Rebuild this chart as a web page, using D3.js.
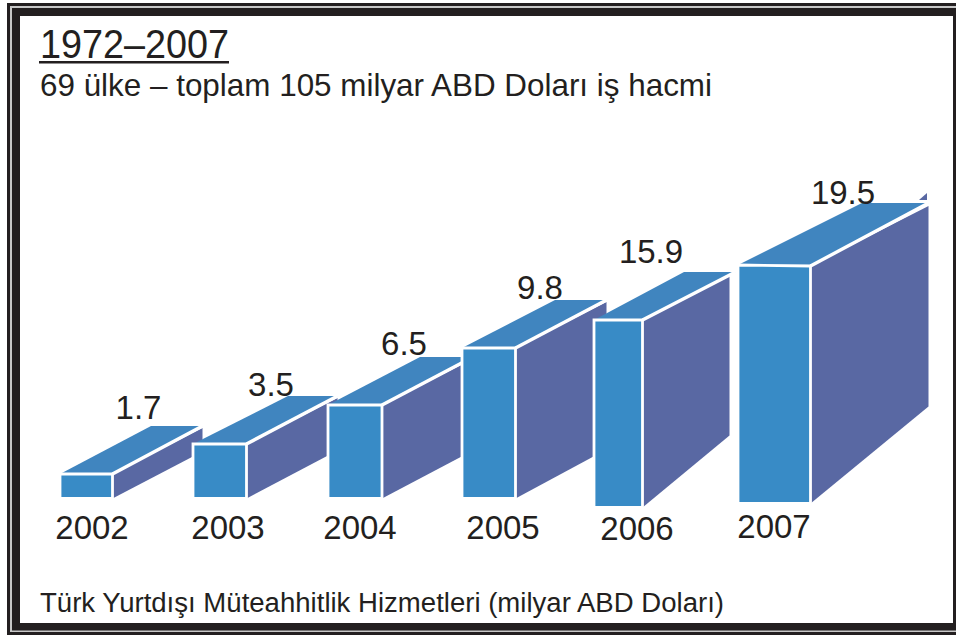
<!DOCTYPE html>
<html><head><meta charset="utf-8">
<script src="https://cdn.jsdelivr.net/npm/d3@7/dist/d3.min.js"></script>
<style>html,body{margin:0;padding:0;background:#fff}svg{display:block}text{font-family:"Liberation Sans",Arial,sans-serif;fill:#231f20}</style>
</head><body><div id="c"></div>
<script>
// Data
const years = [2002, 2003, 2004, 2005, 2006, 2007];
const values = [1.7, 3.5, 6.5, 9.8, 15.9, 19.5];
const titleText = "1972–2007";
const subtitleText = "69 ülke – toplam 105 milyar ABD Doları iş hacmi";
const footnoteText = "Türk Yurtdışı Müteahhitlik Hizmetleri (milyar ABD Doları)";

// Layout of the hand-drawn pictogram (scale ranges)
const frontLeft = [60, 193, 328, 462, 594, 738];
const frontWidth = [52.5, 53.5, 54, 53.5, 48.5, 72.5];
const frontTop = [474, 444, 405, 348, 320, 265];
const frontBottom = [498.5, 498.5, 498.5, 498.5, 507.5, 503.5];
const depthLeft = [91, 95, 92, 93, 90, 124];
const depthRight = [90, 91, 91, 91, 93, 118];
const depthRise = [48, 48, 48, 48, 48, 62];
const sideDepth = [90, 91, 91, 91, 87, 118];
const sideBottomRise = [47, 48, 48, 49, 72, 94];
const valueLabelX = [138.5, 271, 404, 540, 651, 843];
const valueLabelY = [419, 396, 355, 299, 263, 204];
const yearLabelX = [92, 228, 360, 503, 637, 774];
const yearLabelY = [539, 539, 539, 539, 540, 538];

const W = 956, H = 635;
const svg = d3.select("#c").append("svg").attr("width", W).attr("height", H);

// Scales
const x = d3.scaleOrdinal().domain(years).range(frontLeft);
const y = d3.scaleLinear().domain(values).range(frontTop);
const widthOf = d3.scaleOrdinal().domain(years).range(frontWidth);
const baseOf = d3.scaleOrdinal().domain(years).range(frontBottom);

// Frame
const black = "#231f20";
svg.append("rect").attr("x", 7).attr("y", 3).attr("width", W - 7).attr("height", 632).attr("fill", black);
svg.append("rect").attr("x", 10).attr("y", 6).attr("width", W - 10).attr("height", 626).attr("fill", "#c8c8c8");
svg.append("rect").attr("x", 12).attr("y", 8).attr("width", W - 12).attr("height", 622.5).attr("fill", black);
svg.append("rect").attr("x", 20).attr("y", 16).attr("width", 933).attr("height", 607).attr("fill", "#fff");

const poly = pts => "M" + pts.map(p => p.join(",")).join("L") + "Z";
const line = pts => "M" + pts.map(p => p.join(",")).join("L");

// Bars
const bars = svg.append("g");
years.forEach((yr, i) => {
  const v = values[i];
  const l = x(yr), r = l + widthOf(yr), t = y(v), b = baseOf(yr);
  const rise = depthRise[i];
  const tr = i === 5 ? t + 1 : t;
  const g = bars.append("g");
  // side
  g.append("path").attr("d", poly([
    [r, tr], [r + sideDepth[i], tr - rise + 2], [r + sideDepth[i], b - sideBottomRise[i] - (i===5?3:0)], [r, b]
  ])).attr("fill", "#5968a3");
  // top
  g.append("path").attr("d", poly([
    [l, t], [r, tr], [r + depthRight[i], t - rise], [l + depthLeft[i], t - rise]
  ])).attr("fill", "#4085bf");
  // white ridge
  g.append("path").attr("d", line([[r, tr], [r + depthRight[i], t - rise]]))
    .attr("fill", "none").attr("stroke", "#fff").attr("stroke-width", 3.4);
  // front
  g.append("path").attr("d", poly([[l, t], [r, tr], [r, b], [l, b]]))
    .attr("fill", "#388bc6").attr("stroke", "#fff").attr("stroke-width", 2.8);
});
// small remnant at the back corner of the last bar
svg.append("path").attr("d", poly([[919, 200], [927, 193], [927, 200]])).attr("fill", "#5968a3");

// Labels
function fit(sel, w) {
  sel.attr("textLength", w).attr("lengthAdjust", "spacingAndGlyphs");
  return sel;
}
svg.selectAll("text.v").data(values).join("text").attr("class", "v")
  .attr("x", (d, i) => valueLabelX[i]).attr("y", (d, i) => valueLabelY[i])
  .attr("text-anchor", "middle").attr("font-size", 33)
  .text(d => d.toFixed(1));
svg.selectAll("text.y").data(years).join("text").attr("class", "y")
  .attr("x", (d, i) => yearLabelX[i]).attr("y", (d, i) => yearLabelY[i])
  .attr("text-anchor", "middle").attr("font-size", 33)
  .text(d => d);

fit(svg.append("text").attr("x", 40).attr("y", 58).attr("font-size", 40).text(titleText), 189);
svg.append("rect").attr("x", 39).attr("y", 61).attr("width", 190).attr("height", 2.5).attr("fill", black);
fit(svg.append("text").attr("x", 40).attr("y", 96).attr("font-size", 31.5).text(subtitleText), 672);
fit(svg.append("text").attr("x", 40).attr("y", 612).attr("font-size", 27).text(footnoteText), 684);
</script></body></html>
